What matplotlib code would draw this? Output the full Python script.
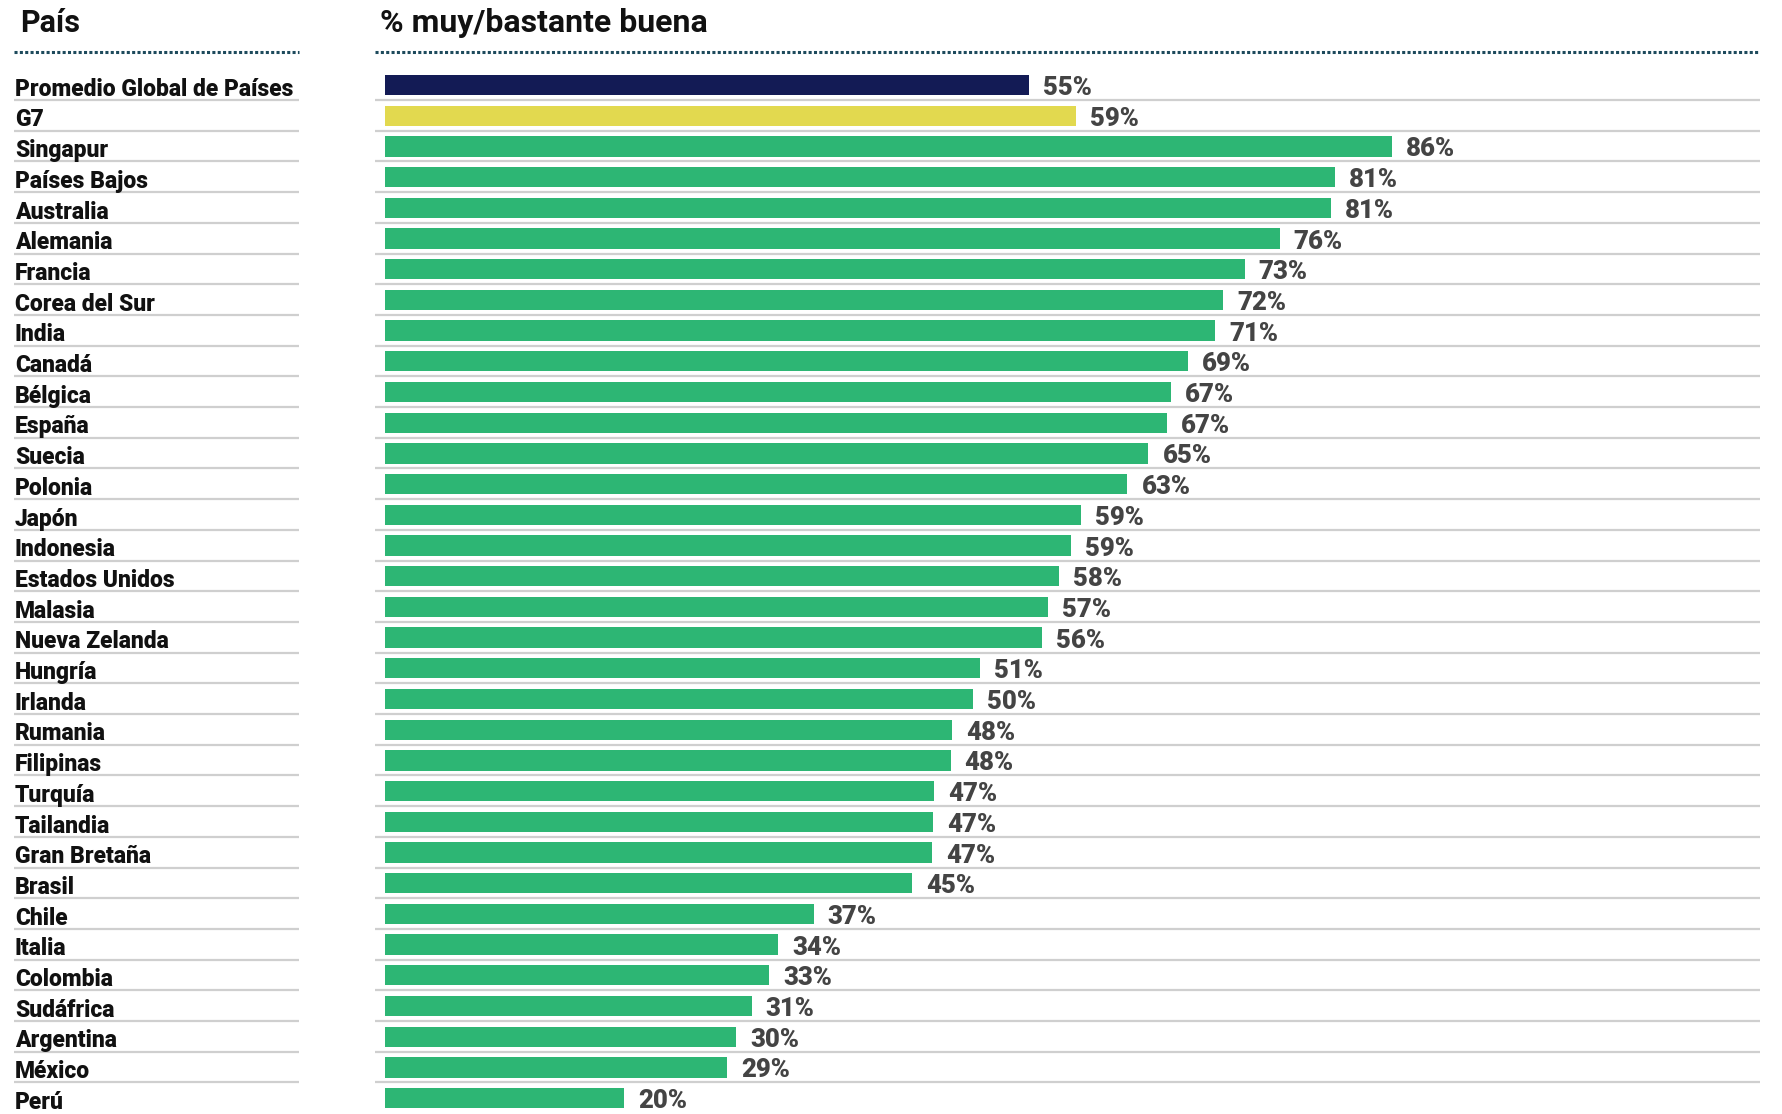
#!/usr/bin/env python3
"""Barras horizontales: % muy/bastante buena por país."""

import matplotlib

matplotlib.use("Agg")
import matplotlib.pyplot as plt

W, H = 1783, 1114

countries = [
    "Promedio Global de Países", "G7", "Singapur", "Países Bajos", "Australia",
    "Alemania", "Francia", "Corea del Sur", "India", "Canadá", "Bélgica",
    "España", "Suecia", "Polonia", "Japón", "Indonesia", "Estados Unidos",
    "Malasia", "Nueva Zelanda", "Hungría", "Irlanda", "Rumania", "Filipinas",
    "Turquía", "Tailandia", "Gran Bretaña", "Brasil", "Chile", "Italia",
    "Colombia", "Sudáfrica", "Argentina", "México", "Perú",
]
# longitud de barra estimada (sin redondear) y etiqueta publicada
values = [
    55.0, 59.0, 86.0, 81.1, 80.8, 76.4, 73.4, 71.6, 70.9, 68.6, 67.1, 66.8,
    65.2, 63.4, 59.4, 58.6, 57.6, 56.6, 56.1, 50.8, 50.2, 48.4, 48.3, 46.9,
    46.8, 46.7, 45.0, 36.6, 33.6, 32.8, 31.3, 30.0, 29.2, 20.4,
]
labels = [
    55, 59, 86, 81, 81, 76, 73, 72, 71, 69, 67, 67, 65, 63, 59, 59, 58, 57,
    56, 51, 50, 48, 48, 47, 47, 47, 45, 37, 34, 33, 31, 30, 29, 20,
]
bar_colors = ["#131b55", "#e2d94f"] + ["#2db674"] * (len(values) - 2)

header_left = "País"
header_right = "% muy/bastante buena"

FONT = ["Roboto", "DejaVu Sans"]
plt.rcParams["font.family"] = FONT

# geometría en píxeles
ROW0_PX = 85.0          # centro de la primera fila
ROW_PX = 30.7           # separación entre filas
BAR_X0_PX = 385.0       # x donde empieza la barra (valor 0)
PX_PER_UNIT = 11.71
RIGHT_L, RIGHT_R = 375.0, 1760.0
LEFT_L, LEFT_R = 14.0, 299.0
DOT_Y_PX = 52.0
HEAD_Y_PX = 23.0

ylim = ((H - ROW0_PX) / ROW_PX, -ROW0_PX / ROW_PX)


def px_to_row(ypx):
    return (ypx - ROW0_PX) / ROW_PX


fig = plt.figure(figsize=(W / 100, H / 100), dpi=100)
fig.patch.set_facecolor("white")

# panel izquierdo (en píxeles en x)
axl = fig.add_axes([0, 0, RIGHT_L / W, 1])
axl.set_xlim(0, RIGHT_L)
axl.set_ylim(*ylim)
axl.axis("off")

# panel derecho (barras)
axr = fig.add_axes([RIGHT_L / W, 0, (RIGHT_R - RIGHT_L) / W, 1])
xmin = -(BAR_X0_PX - RIGHT_L) / PX_PER_UNIT
xmax = (RIGHT_R - BAR_X0_PX) / PX_PER_UNIT
axr.set_xlim(xmin, xmax)
axr.set_ylim(*ylim)
axr.axis("off")

n = len(countries)
rows = list(range(n))

# separadores grises
for i in range(n - 1):
    y = i + 0.49
    axl.plot([LEFT_L, LEFT_R], [y, y], color="#cfcfcf", lw=1.6, solid_capstyle="butt")
    axr.plot([xmin, xmax], [y, y], color="#cfcfcf", lw=1.6, solid_capstyle="butt")

axr.barh(rows, values, height=0.66, color=bar_colors, left=0, zorder=3)

for i, (name, v, lab) in enumerate(zip(countries, values, labels)):
    axl.text(LEFT_L + 1, i + 0.14, name, ha="left", va="center",
             fontsize=16.5, fontweight="black", color="#111111")
    axr.text(v + 14 / PX_PER_UNIT, i + 0.1, f"{lab}%", ha="left", va="center",
             fontsize=18.5, fontweight="black", color="#444444")

# encabezados
yd = px_to_row(DOT_Y_PX)
dot_style = dict(color="#1d4a5c", lw=2.2, linestyle=(0, (1, 0.75)), dash_capstyle="butt")
axl.plot([LEFT_L, LEFT_R], [yd, yd], **dot_style)
axr.plot([xmin, xmax], [yd, yd], **dot_style)

yh = px_to_row(HEAD_Y_PX)
axl.text(20, yh, header_left, ha="left", va="center", fontsize=22,
         fontweight="bold", color="#111111")
axr.text(xmin + 5 / PX_PER_UNIT, yh, header_right, ha="left", va="center",
         fontsize=23, fontweight="bold", color="#111111")

fig.savefig("out.png", dpi=100, facecolor="white")
plt.close(fig)
